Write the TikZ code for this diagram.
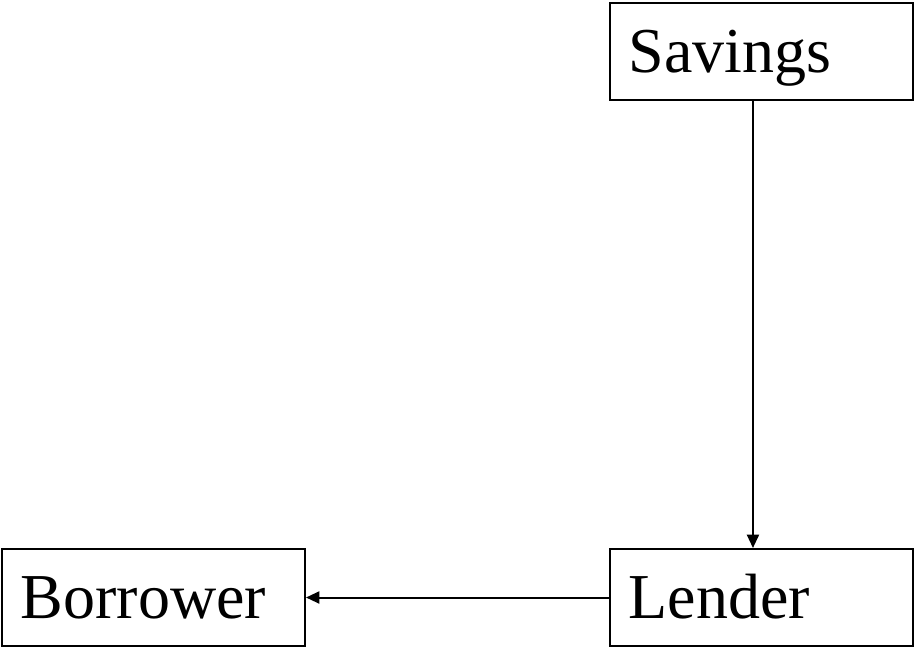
\documentclass[tikz,border=0pt]{standalone}
\usepackage{fontspec}
\setmainfont{Liberation Serif}
\usetikzlibrary{arrows.meta}

\newcommand{\acctname}[1]{\makebox[199pt][l]{#1}}

\tikzset{
	acctbox/.style={draw, line width=1.5pt, rectangle, minimum width=227.25pt, minimum height=72.75pt,
		inner xsep=14pt, inner ysep=0pt,
		font=\fontsize{48}{52}\selectfont, text height=31pt, text depth=0pt},
	flow/.style={line width=1.5pt, -{Triangle[length=10pt,width=9pt]}}
}

\begin{document}
\begin{tikzpicture}[x=0.75pt,y=0.75pt,yscale=-1,xscale=1]
	\useasboundingbox (0,0) rectangle (915,650);

	% Text Node
	\node [acctbox] (savings) at (761.5,51.5) {\acctname{Savings}};
	% Text Node
	\node [acctbox] (lender) at (761.5,597.5) {\acctname{Lender}};
	% Text Node
	\node [acctbox] (borrower) at (153.5,597.5) {\acctname{Borrower}};

	% Connection
	\draw [flow] ([xshift=-6.4pt]savings.south) -- ([xshift=-6.4pt]lender.north);
	% Connection
	\draw [flow] (lender.west) -- (borrower.east);

\end{tikzpicture}
\end{document}
